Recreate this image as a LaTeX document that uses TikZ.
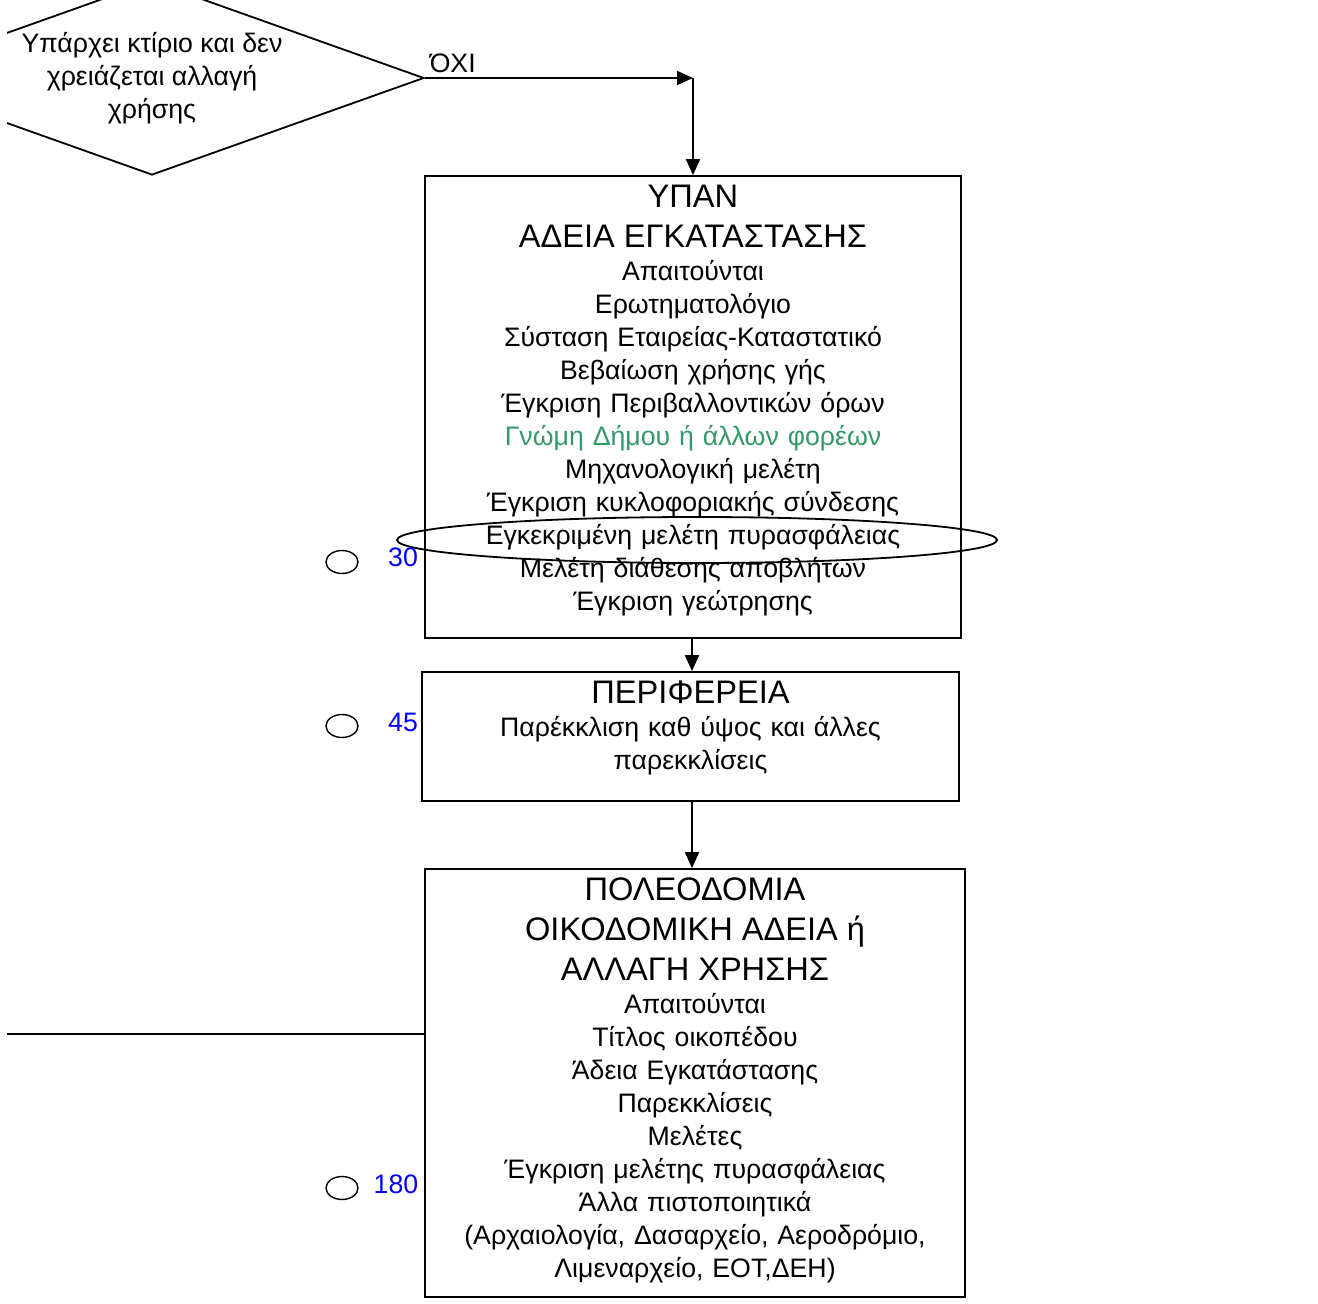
\documentclass[tikz,border=0pt]{standalone}
\usepackage{fontspec}
\setmainfont{Liberation Sans}
\definecolor{opiniongreen}{RGB}{51, 153, 102}
\definecolor{dayblue}{RGB}{0, 0, 255}
\usetikzlibrary{
    shapes.geometric,
    arrows.meta,
    calc
}
\newcommand{\hdfont}{\fontsize{16.3}{20}\selectfont}
\newcommand{\bdfont}{\fontsize{13.35}{16.5}\selectfont}

\begin{document}
\begin{tikzpicture}[x=0.5pt, y=-0.5pt, line width=0.9pt,
    frame/.style={draw, rectangle, inner sep=0},
    boxtext/.style={anchor=north, inner sep=0, text width=262pt, align=center, font=\bdfont},
    arr/.style={-{Triangle[length=8pt, width=7pt]}},
    dayring/.style={draw, ellipse, line width=0.7pt, minimum width=16pt, minimum height=11.5pt, inner sep=0},
    daynum/.style={font=\bdfont, text=dayblue, inner sep=0}]
    \useasboundingbox (0,0) rectangle (1318,1304);
    \clip (7,0) rectangle (1318,1304);

    % Decision
    \node[draw, diamond, aspect=2.8, inner sep=0, minimum width=272pt, minimum height=97pt,
          font=\bdfont, align=center] (cond) at (152,78)
        {Υπάρχει κτίριο και δεν\\χρειάζεται αλλαγή\\χρήσης};
    \coordinate (turn) at (693,78);
    \draw[arr] (cond.east) -- (turn)
        node[pos=0, anchor=south west, font=\bdfont, inner sep=2pt] (no) {ΌΧΙ};

    % ΥΠΑΝ
    \node[frame, minimum width=268pt, minimum height=231pt] (ypan) at (693,407) {};
    \node[boxtext] (ypantext) at (693,184) {\hdfont ΥΠΑΝ\\ΑΔΕΙΑ ΕΓΚΑΤΑΣΤΑΣΗΣ\\
        \bdfont Απαιτούνται\\
        Ερωτηματολόγιο\\
        Σύσταση Εταιρείας-Καταστατικό\\
        Βεβαίωση χρήσης γής\\
        Έγκριση Περιβαλλοντικών όρων\\
        \textcolor{opiniongreen}{Γνώμη Δήμου ή άλλων φορέων}\\
        Μηχανολογική μελέτη\\
        Έγκριση κυκλοφοριακής σύνδεσης\\
        Εγκεκριμένη μελέτη πυρασφάλειας\\
        Μελέτη διάθεσης αποβλήτων\\
        Έγκριση γεώτρησης};
    \node[draw, ellipse, inner sep=0, minimum width=300pt, minimum height=23pt] (fire) at (697,540) {};

    % ΠΕΡΙΦΕΡΕΙΑ
    \node[frame, minimum width=268.5pt, minimum height=64.5pt] (perif) at (690.5,736.5) {};
    \node[boxtext] (periftext) at (690.5,680) {\hdfont ΠΕΡΙΦΕΡΕΙΑ\\
        \bdfont Παρέκκλιση καθ ύψος και άλλες\\
        παρεκκλίσεις};

    % ΠΟΛΕΟΔΟΜΙΑ
    \node[frame, minimum width=270pt, minimum height=214pt] (pol) at (695,1083) {};
    \node[boxtext] (poltext) at (695,877) {\hdfont ΠΟΛΕΟΔΟΜΙΑ\\ΟΙΚΟΔΟΜΙΚΗ ΑΔΕΙΑ ή\\ΑΛΛΑΓΗ ΧΡΗΣΗΣ\\
        \bdfont Απαιτούνται\\
        Τίτλος οικοπέδου\\
        Άδεια Εγκατάστασης\\
        Παρεκκλίσεις\\
        Μελέτες\\
        Έγκριση μελέτης πυρασφάλειας\\
        Άλλα πιστοποιητικά\\
        (Αρχαιολογία, Δασαρχείο, Αεροδρόμιο,\\
        Λιμεναρχείο, ΕΟΤ,ΔΕΗ)};

    % Connectors
    \coordinate (ypanout) at ($(ypan.south)+(-1,0)$);
    \coordinate (perifout) at ($(perif.south)+(1.5,0)$);
    \draw[arr] (turn) -- (ypan.north);
    \draw[arr] (ypanout) -- (ypanout |- perif.north);
    \draw[arr] (perifout) -- (perifout |- pol.north);
    \coordinate (lend) at (7,1034);
    \draw (lend) -- (lend -| pol.west);

    % Days
    \node[dayring] (ring30) at (342,562) {};
    \node[daynum] (day30) at (403,557) {30};
    \node[dayring] (ring45) at (342,726) {};
    \node[daynum] (day45) at (403,722) {45};
    \node[dayring] (ring180) at (342,1188) {};
    \node[daynum] (day180) at (396,1184) {180};
\end{tikzpicture}
\end{document}
